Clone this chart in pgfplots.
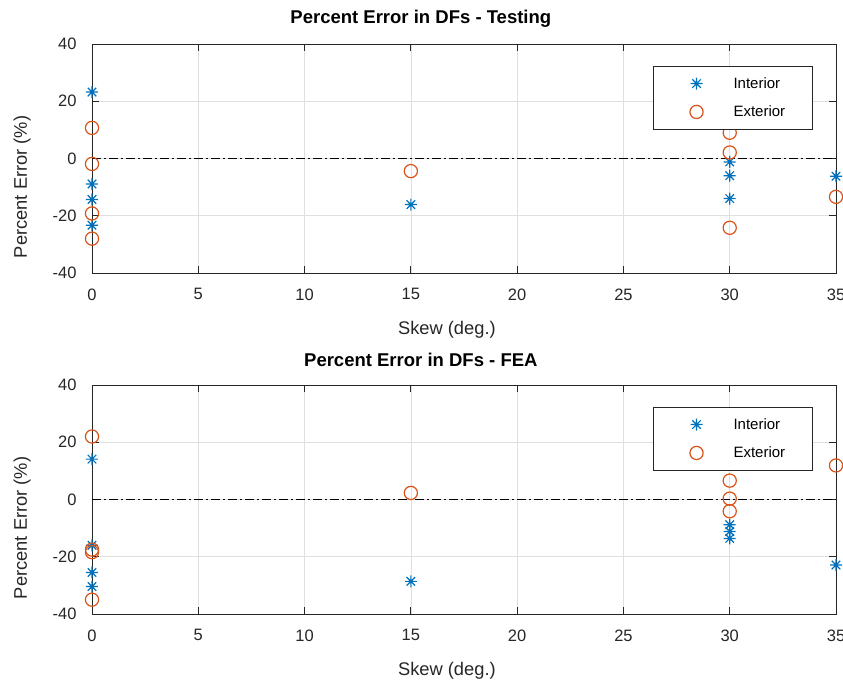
\documentclass[border=0pt]{standalone}
\usepackage{fontspec}
\setmainfont{Liberation Sans}
\usepackage{pgfplots}
\pgfplotsset{compat=1.18}
\definecolor{mblue}{rgb}{0,0.447,0.741}
\definecolor{morange}{rgb}{0.85,0.325,0.098}
\definecolor{axgray}{RGB}{38,38,38}
\definecolor{gridgray}{RGB}{223,223,223}

\pgfdeclareplotmark{mstar}{%
  \pgfpathmoveto{\pgfqpoint{0pt}{\pgfplotmarksize}}%
  \pgfpathlineto{\pgfqpoint{0pt}{-\pgfplotmarksize}}%
  \pgfpathmoveto{\pgfqpoint{\pgfplotmarksize}{0pt}}%
  \pgfpathlineto{\pgfqpoint{-\pgfplotmarksize}{0pt}}%
  \pgfpathmoveto{\pgfqpoint{0.707\pgfplotmarksize}{0.707\pgfplotmarksize}}%
  \pgfpathlineto{\pgfqpoint{-0.707\pgfplotmarksize}{-0.707\pgfplotmarksize}}%
  \pgfpathmoveto{\pgfqpoint{-0.707\pgfplotmarksize}{0.707\pgfplotmarksize}}%
  \pgfpathlineto{\pgfqpoint{0.707\pgfplotmarksize}{-0.707\pgfplotmarksize}}%
  \pgfusepathqstroke}

\pgfplotstableread{
x y
0 23.2
0 -8.9
0 -14.3
0 -23.3
15 -16.1
30 -1.2
30 -6.0
30 -14.0
35 -6.2
}\topint
\pgfplotstableread{
x y
0 10.7
0 -1.9
0 -19.2
0 -28.0
15 -4.4
30 9.0
30 2.1
30 -24.2
35 -13.4
}\topext
\pgfplotstableread{
x y
0 14.1
0 -16.0
0 -25.5
0 -30.4
15 -28.6
30 -8.8
30 -11.2
30 -13.6
35 -22.9
}\botint
\pgfplotstableread{
x y
0 22.0
0 -17.5
0 -18.4
0 -35.0
15 2.3
30 6.6
30 0.3
30 -4.1
35 11.9
}\botext

\pgfplotsset{
  intstyle/.style={only marks, mark=mstar, mark size=6pt, mblue, line width=1.2pt,
    legend image code/.code={\path[draw=none,fill=none] (0pt,-6pt) rectangle (75pt,6pt); \draw[##1] plot coordinates {(40pt,0pt)};}},
  extstyle/.style={only marks, mark=o, mark size=6.6pt, morange, line width=1.2pt,
    legend image code/.code={\path[draw=none,fill=none] (0pt,-6pt) rectangle (75pt,6pt); \draw[##1] plot coordinates {(40pt,0pt)};}},
  zerostyle/.style={black, line width=0.8pt, dash pattern=on 9pt off 3pt on 2pt off 3pt, forget plot},
}

\pgfplotsset{myax/.style={
  scale only axis, width=744pt, height=229pt,
  xmin=0, xmax=35, ymin=-40, ymax=40,
  xtick={0,5,...,35}, ytick={-40,-20,0,20,40},
  clip=false,
  grid=major, major grid style={gridgray, line width=0.7pt},
  tick align=inside, major tick length=7pt,
  axis line style={axgray, line width=0.8pt},
  tick style={axgray, line width=0.8pt},
  ticklabel style={font=\fontsize{16.5}{19}\selectfont, text=axgray},
  xticklabel style={yshift=-12pt},
  yticklabel style={xshift=-12pt},
  /pgf/number format/assume math mode=true,
  label style={font=\fontsize{18.3}{21}\selectfont, text=axgray},
  every axis title shift=0pt,
  title style={font=\bfseries\fontsize{18.5}{21}\selectfont, at={(axis description cs:0.442,1.109)}, anchor=center},
  x label style={at={(axis description cs:0.477,-0.247)}, anchor=center},
  y label style={at={(axis description cs:-0.094,0.376)}, anchor=center},
  xlabel={Skew (deg.)}, ylabel={Percent Error (\%)},
  legend style={at={(rel axis cs:0.969,0.904)}, anchor=north east, draw=axgray, line width=0.8pt, fill=white,
    font=\fontsize{15}{18}\selectfont, row sep=12pt, inner ysep=9pt},
  legend cell align=left,
}}

\begin{document}
\begin{tikzpicture}
\useasboundingbox (0,0) rectangle (843pt,682pt);
\begin{axis}[myax, at={(92pt,409pt)}, anchor=south west, title={Percent Error in DFs - Testing}]
\addplot[zerostyle] coordinates {(0,0) (35,0)};
\addplot[intstyle] table[x=x,y=y] {\topint};
\addlegendentry{\makebox[74pt][l]{Interior}}
\addplot[extstyle] table[x=x,y=y] {\topext};
\addlegendentry{\makebox[74pt][l]{Exterior}}
\end{axis}
\begin{axis}[myax, at={(92pt,68pt)}, anchor=south west, title={Percent Error in DFs - FEA}]
\addplot[zerostyle] coordinates {(0,0) (35,0)};
\addplot[intstyle] table[x=x,y=y] {\botint};
\addlegendentry{\makebox[74pt][l]{Interior}}
\addplot[extstyle] table[x=x,y=y] {\botext};
\addlegendentry{\makebox[74pt][l]{Exterior}}
\end{axis}
\end{tikzpicture}
\end{document}
